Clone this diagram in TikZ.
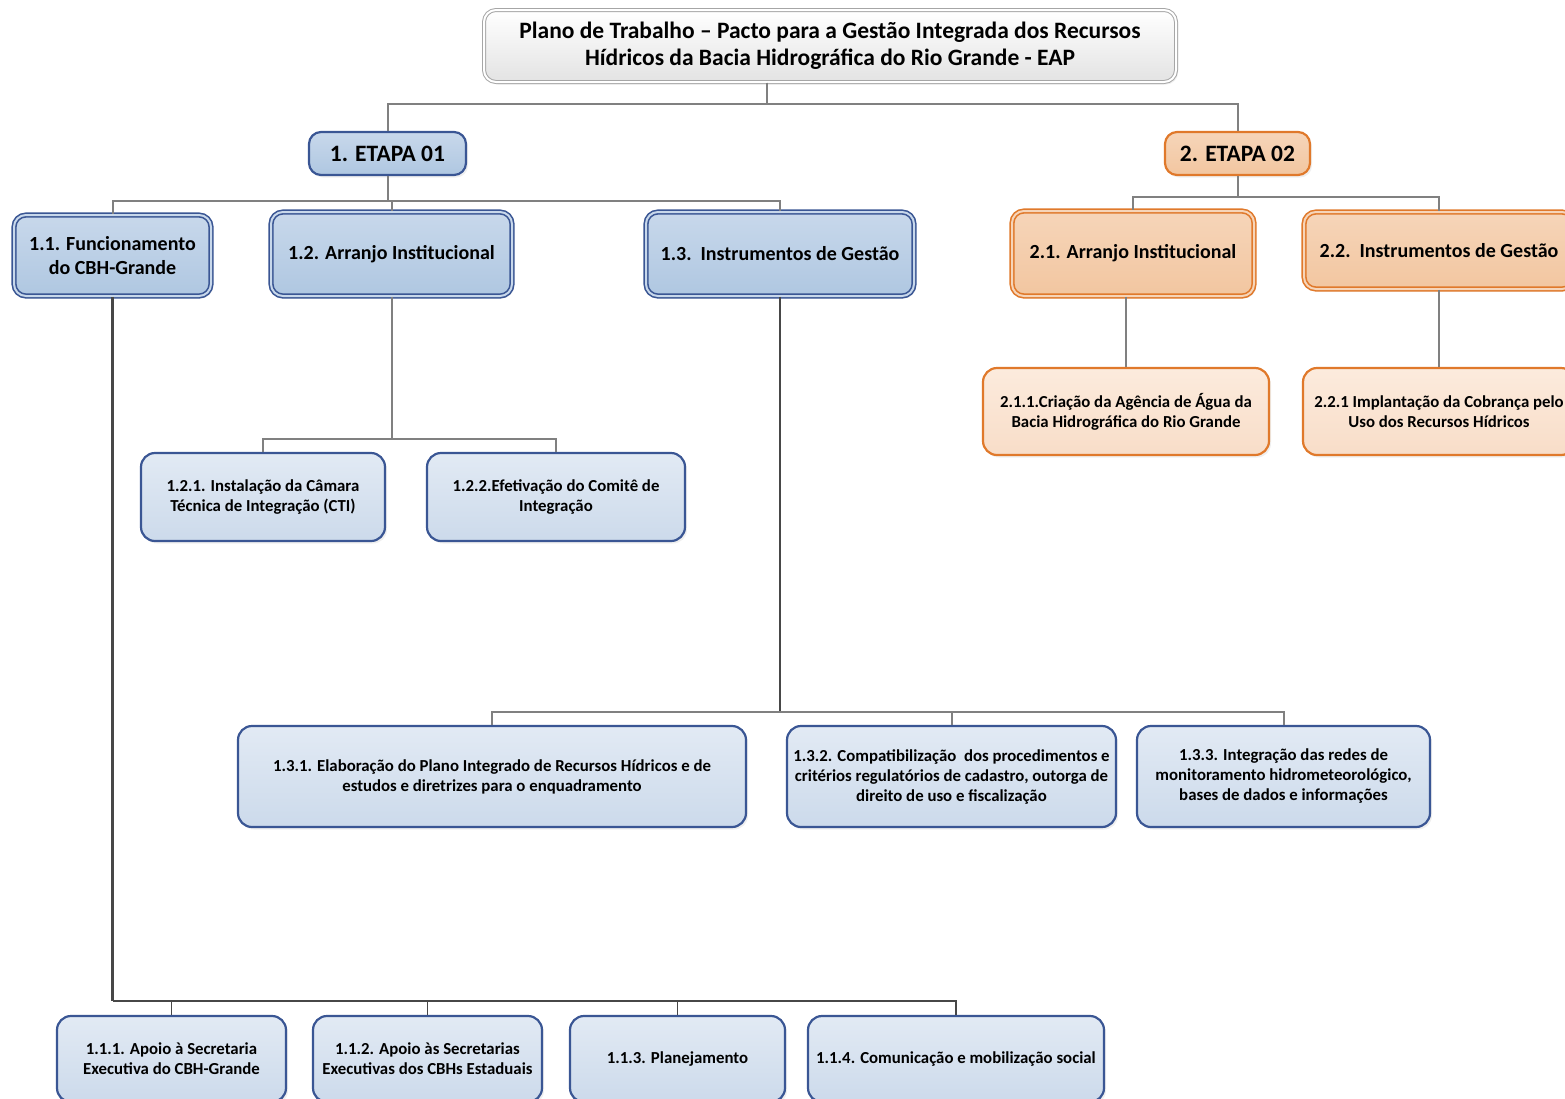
\documentclass[tikz,border=0pt]{standalone}
\usepackage{fontspec}
\setmainfont{Carlito}
\usetikzlibrary{shadows,calc}

\definecolor{bluebord}{HTML}{3A5694}
\definecolor{bluetop}{HTML}{C8D8EB}
\definecolor{bluebot}{HTML}{AFC7E1}
\definecolor{lbluetop}{HTML}{E2EAF4}
\definecolor{lbluebot}{HTML}{CCDAEB}
\definecolor{orbord}{HTML}{E0792B}
\definecolor{ortop}{HTML}{F6D5B9}
\definecolor{orbot}{HTML}{F2C6A0}
\definecolor{lortop}{HTML}{FCEBDD}
\definecolor{lorbot}{HTML}{F8DDC8}
\definecolor{linegrey}{HTML}{808080}
\definecolor{linedark}{HTML}{474747}

\begin{document}
\begin{tikzpicture}[
x=1pt,y=-1pt,
box/.style={
  rounded corners=12pt,
  align=center,
  inner sep=0pt,
  drop shadow={shadow xshift=2pt,shadow yshift=-2.5pt,fill=black!12}
  },
head/.style={
  box,
  draw=black!35,
  line width=1pt,
  double=white,
  double distance=2pt,
  top color=white,
  bottom color=black!11,
  font=\bfseries\fontsize{23.5}{27}\selectfont
  },
stage/.style={
  box,
  line width=2.2pt,
  font=\bfseries\fontsize{23.5}{27}\selectfont
  },
stageblue/.style={stage,draw=bluebord,top color=bluetop,bottom color=bluebot},
stageorange/.style={stage,draw=orbord,top color=ortop,bottom color=orbot},
group/.style={
  box,
  line width=1.6pt,
  double distance=2pt,
  font=\bfseries\fontsize{20}{24}\selectfont
  },
groupblue/.style={group,draw=bluebord,double=bluetop,top color=bluetop,bottom color=bluebot},
grouporange/.style={group,draw=orbord,double=ortop,top color=ortop,bottom color=orbot},
task/.style={
  box,
  rounded corners=14pt,
  line width=2.2pt,
  font=\bfseries\fontsize{16.8}{20}\selectfont
  },
taskblue/.style={task,draw=bluebord,top color=lbluetop,bottom color=lbluebot},
taskorange/.style={task,draw=orbord,top color=lortop,bottom color=lorbot},
conn/.style={draw=linegrey,line width=2pt},
trunk/.style={draw=linedark,line width=2.2pt}
]
\useasboundingbox (0,0) rectangle (1565,1098);

% top
\node[head,minimum width=692,minimum height=72] (title) at (830,46)
  {Plano de Trabalho -- Pacto para a Gestão Integrada dos Recursos\\Hídricos da Bacia Hidrográfica do Rio Grande - EAP};

\node[stageblue,minimum width=157,minimum height=43] (e1) at (387.5,153.5) {1. ETAPA 01};
\node[stageorange,minimum width=145,minimum height=43] (e2) at (1237.5,153.5) {2. ETAPA 02};

% etapa 01
\node[groupblue,minimum width=197,minimum height=81] (b11) at (112.5,255.5) {1.1. Funcionamento\\do CBH-Grande};
\node[groupblue,minimum width=241,minimum height=84] (b12) at (391.5,254) {1.2. Arranjo Institucional};
\node[groupblue,minimum width=268,minimum height=84] (b13) at (780,254) {1.3.\ \ Instrumentos de Gestão};

\node[taskblue,minimum width=244,minimum height=88] (b121) at (263,497) {1.2.1. Instalação da Câmara\\Técnica de Integração (CTI)};
\node[taskblue,minimum width=258,minimum height=88] (b122) at (556,497) {1.2.2.Efetivação do Comitê de\\Integração};

\node[taskblue,minimum width=508,minimum height=101] (b131) at (492,776.5) {1.3.1. Elaboração do Plano Integrado de Recursos Hídricos e de\\estudos e diretrizes para o enquadramento};
\node[taskblue,minimum width=329,minimum height=101] (b132) at (951.5,776.5) {1.3.2. Compatibilização\ \ dos procedimentos e\\critérios regulatórios de cadastro, outorga de\\direito de uso e fiscalização};
\node[taskblue,minimum width=293,minimum height=101] (b133) at (1283.5,776.5) {1.3.3. Integração das redes de\\monitoramento hidrometeorológico,\\bases de dados e informações};

\node[taskblue,minimum width=229,minimum height=86] (b111) at (171.5,1059) {1.1.1. Apoio à Secretaria\\Executiva do CBH-Grande};
\node[taskblue,minimum width=229,minimum height=86] (b112) at (427.5,1059) {1.1.2. Apoio às Secretarias\\Executivas dos CBHs Estaduais};
\node[taskblue,minimum width=215,minimum height=86] (b113) at (677.5,1059) {1.1.3. Planejamento};
\node[taskblue,minimum width=296,minimum height=86] (b114) at (956,1059) {1.1.4. Comunicação e mobilização social};

% etapa 02
\node[grouporange,minimum width=242,minimum height=85] (b21) at (1133,253.5) {2.1. Arranjo Institucional};
\node[grouporange,minimum width=270,minimum height=77] (b22) at (1439,250.5) {2.2.\ \ Instrumentos de Gestão};

\node[taskorange,minimum width=286,minimum height=87] (b211) at (1126,411.5) {2.1.1.Criação da Agência de Água da\\Bacia Hidrográfica do Rio Grande};
\node[taskorange,minimum width=272,minimum height=87] (b221) at (1439,411.5) {2.2.1 Implantação da Cobrança pelo\\Uso dos Recursos Hídricos};

% connectors
\draw[conn] ([xshift=-63pt]title.south) -- ++(0,21) -| (e1.north);
\draw[conn] ([xshift=-63pt]title.south) -- ++(0,21) -| (e2.north);
\foreach \b in {b11,b12,b13}
  \draw[conn] (e1.south) -- ++(0,25) -| (\b.north);
\foreach \b in {b21,b22}
  \draw[conn] (e2.south) -- ++(0,21) -| (\b.north);
\foreach \b in {b121,b122}
  \draw[conn] (b12.south) -- ++(0,142) -| (\b.north);

\draw[trunk] (b13.south) -- ++(0,415) coordinate (j13);
\foreach \b in {b131,b132,b133}
  \draw[conn] (j13) -| (\b.north);

\draw[trunk] (b11.south) -- ++(0,704) coordinate (j11);
\foreach \b in {b111,b112,b113,b114}
  \draw[trunk,line width=1.8pt] (j11) -| (\b.north);

\draw[conn] (b211.north |- b21.south) -- (b211.north);
\draw[conn] (b221.north |- b22.south) -- (b221.north);

\end{tikzpicture}
\end{document}
